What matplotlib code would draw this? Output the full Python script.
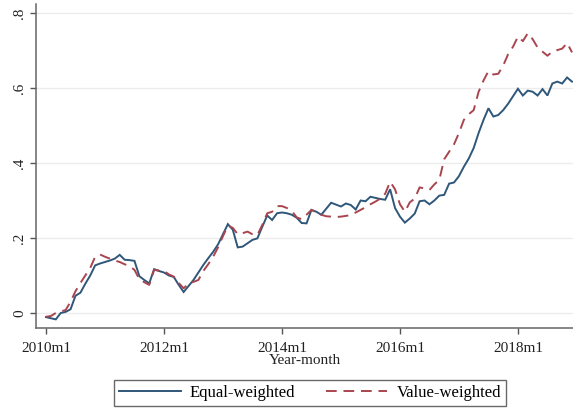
import numpy as np
import matplotlib
matplotlib.use("Agg")
import matplotlib.pyplot as plt

# Cumulative returns by month, 2010m1 .. 2018m12
start_year = 2010
equal_weighted = [
    -0.011, -0.014, -0.017, 0.000, 0.003, 0.010, 0.046, 0.054, 0.078, 0.100,
    0.127, 0.132, 0.136, 0.140, 0.145, 0.155, 0.142, 0.141, 0.139, 0.098,
    0.088, 0.079, 0.117, 0.112, 0.108, 0.100, 0.096, 0.075, 0.056, 0.072,
    0.088, 0.108, 0.128, 0.146, 0.163, 0.183, 0.210, 0.237, 0.222, 0.175,
    0.177, 0.186, 0.195, 0.199, 0.230, 0.260, 0.248, 0.266, 0.268, 0.266,
    0.262, 0.254, 0.240, 0.239, 0.275, 0.270, 0.262, 0.278, 0.294, 0.289,
    0.284, 0.292, 0.288, 0.276, 0.300, 0.298, 0.310, 0.307, 0.304, 0.302,
    0.330, 0.280, 0.257, 0.241, 0.252, 0.265, 0.298, 0.300, 0.290, 0.300,
    0.313, 0.315, 0.345, 0.348, 0.365, 0.390, 0.412, 0.440, 0.480, 0.515,
    0.546, 0.524, 0.528, 0.541, 0.558, 0.578, 0.598, 0.580, 0.593, 0.590,
    0.580, 0.597, 0.580, 0.612, 0.617, 0.612, 0.628, 0.617,
]
value_weighted = [
    -0.010, -0.008, 0.000, 0.004, 0.008, 0.030, 0.058, 0.080, 0.100, 0.120,
    0.150, 0.156, 0.150, 0.145, 0.140, 0.136, 0.130, 0.125, 0.115, 0.090,
    0.082, 0.075, 0.115, 0.113, 0.112, 0.103, 0.097, 0.080, 0.066, 0.078,
    0.083, 0.088, 0.112, 0.130, 0.150, 0.175, 0.205, 0.233, 0.227, 0.210,
    0.213, 0.217, 0.210, 0.208, 0.235, 0.266, 0.270, 0.285, 0.285, 0.280,
    0.272, 0.255, 0.250, 0.262, 0.275, 0.268, 0.262, 0.258, 0.257, 0.256,
    0.257, 0.259, 0.261, 0.268, 0.275, 0.282, 0.290, 0.297, 0.305, 0.318,
    0.350, 0.330, 0.290, 0.270, 0.295, 0.305, 0.335, 0.332, 0.328, 0.343,
    0.355, 0.410, 0.430, 0.450, 0.480, 0.515, 0.530, 0.541, 0.590, 0.620,
    0.645, 0.636, 0.638, 0.660, 0.690, 0.710, 0.737, 0.725, 0.746, 0.730,
    0.708, 0.697, 0.686, 0.697, 0.701, 0.705, 0.720, 0.695,
]
x_tick_labels = ["2010m1", "2012m1", "2014m1", "2016m1", "2018m1"]
y_ticks = [0.0, 0.2, 0.4, 0.6, 0.8]
y_tick_labels = ["0", ".2", ".4", ".6", ".8"]

months = np.arange(len(equal_weighted))
x_ticks = [(int(lbl[:4]) - start_year) * 12 for lbl in x_tick_labels]

plt.rcParams["font.family"] = ["Liberation Serif", "DejaVu Serif"]

fig = plt.figure(figsize=(5.73, 4.09), dpi=100)
ax = fig.add_axes([36 / 573, 1 - 328 / 409, (573 - 36) / 573, (328 - 4) / 409])

blue = "#2f5779"
red = "#a8454f"
ax.plot(months, equal_weighted, color=blue, lw=1.4, label="Equal-weighted",
        solid_joinstyle="miter")
ax.plot(months, value_weighted, color=red, lw=1.4, dashes=(5.5, 3.5),
        label="Value-weighted")

ax.set_xlim(-2.03, 107.2)
ax.set_ylim(-0.04, 0.824)

ax.set_xticks(x_ticks)
ax.set_xticklabels(x_tick_labels, fontsize=11, color="#222222")
ax.set_yticks(y_ticks)
ax.set_yticklabels(y_tick_labels, fontsize=11, rotation=90, va="center",
                   color="#222222")
ax.tick_params(axis="both", length=4, width=1, color="#555555", pad=3)
ax.tick_params(axis="x", pad=6)

ax.grid(axis="y", color="#ececec", lw=1)
ax.set_axisbelow(True)
for side in ("top", "right"):
    ax.spines[side].set_visible(False)
for side in ("left", "bottom"):
    ax.spines[side].set_color("#666666")
    ax.spines[side].set_linewidth(1.1)

ax.set_xlabel("Year-month", fontsize=11, color="#222222", labelpad=-1)

leg = fig.legend(loc="center", bbox_to_anchor=(310 / 573, 1 - 393 / 409),
                 ncol=2, fontsize=12, frameon=True, fancybox=False,
                 handlelength=3.7, handletextpad=0.55, columnspacing=1.8,
                 borderpad=0.3, borderaxespad=0)
leg.get_frame().set_edgecolor("#444444")
leg.get_frame().set_linewidth(1.0)

fig.savefig("out.png", dpi=100, facecolor="white")
